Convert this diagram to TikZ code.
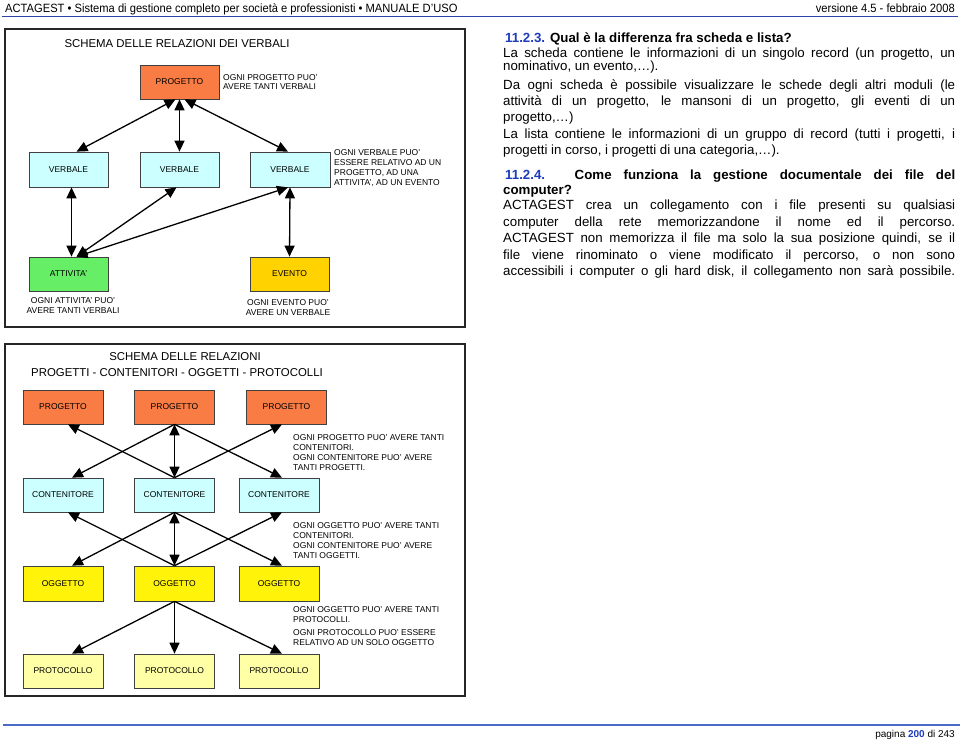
\documentclass[tikz,border=0pt]{standalone}
\usepackage{fontspec}
\setmainfont{Liberation Sans}
\newfontfamily\narrowfont[FakeStretch=0.93]{Liberation Sans}
\usetikzlibrary{arrows.meta,calc}
\definecolor{orangebox}{HTML}{F87C44}
\definecolor{cyanbox}{HTML}{CCFFFF}
\definecolor{greenbox}{HTML}{66EE66}
\definecolor{goldbox}{HTML}{FFD200}
\definecolor{yellowbox}{HTML}{FFF30A}
\definecolor{paleyellow}{HTML}{FFFFA6}
\definecolor{navyline}{HTML}{2E44A8}
\definecolor{footblue}{HTML}{4A6CC8}
\definecolor{headblue}{HTML}{1E3CBE}
\tikzset{
  bx/.style={draw=black!75, line width=0.7pt, minimum width=79pt, minimum height=34pt,
    inner sep=0pt, font=\fontsize{8.5}{10}\selectfont},
  note/.style={align=left, inner sep=0pt, font=\fontsize{8.5}{9.9}\selectfont},
  cnote/.style={align=center, inner sep=0pt, font=\fontsize{8.5}{10}\selectfont},
  frame/.style={draw=black!85, line width=1.7pt},
  tip/.tip={Triangle[length=11pt,width=10pt]},
  dbl/.style={line width=1.3pt, tip-tip},
  sa/.style={line width=1.3pt, -tip},
  body/.style={anchor=base west, inner sep=0pt, font=\fontsize{13.3}{16}\selectfont},
  title/.style={inner sep=0pt, font=\fontsize{11.4}{13}\selectfont},
}
\newcommand{\jline}[1]{\makebox[452pt][s]{#1}}
\begin{document}
\begin{tikzpicture}[x=1pt,y=-1pt]
\useasboundingbox (0,0) rectangle (960,743);
\fill[white] (0,0) rectangle (960,743);

% header
\node[anchor=base west, inner sep=0pt, font=\narrowfont\fontsize{12}{14}\selectfont] (hl) at (5,12.3)
  {ACTAGEST • Sistema di gestione completo per società e professionisti • MANUALE D’USO};
\node[anchor=base east, inner sep=0pt, font=\narrowfont\fontsize{12}{14}\selectfont] (hr) at (955,12.3)
  {versione 4.5 - febbraio 2008};
\coordinate (hla) at (2,16.5);
\coordinate (hlb) at (958,16.5);
\draw[navyline, line width=1.5pt] (hla) -- (hlb);

% ===== Diagram 1 =====
\draw[frame] (5,29) rectangle (465,327);
\node[title] (t1) at (177,44) {SCHEMA DELLE RELAZIONI DEI VERBALI};

\node[bx, fill=orangebox] (prog) at (179.5,82) {PROGETTO};
\node[bx, fill=cyanbox, minimum height=35pt] (v1) at (68.5,169.5) {VERBALE};
\node[bx, fill=cyanbox, minimum height=35pt] (v2) at (179.5,169.5) {VERBALE};
\node[bx, fill=cyanbox, minimum height=35pt, minimum width=80pt] (v3) at (290,169.5) {VERBALE};
\node[bx, fill=greenbox] (att) at (68.5,274) {ATTIVITA’};
\node[bx, fill=goldbox] (ev) at (289.5,274) {EVENTO};

\node[note, anchor=west] (n1) at (223,82) {OGNI PROGETTO PUO’\\AVERE TANTI VERBALI};
\node[note, anchor=west] (n2) at (334,168) {OGNI VERBALE PUO’\\ESSERE RELATIVO AD UN\\PROGETTO, AD UNA\\ATTIVITA’, AD UN EVENTO};
\node[cnote] (n3) at (73,306) {OGNI ATTIVITA’ PUO’\\AVERE TANTI VERBALI};
\node[cnote] (n4) at (288,308) {OGNI EVENTO PUO’\\AVERE UN VERBALE};

\draw[dbl] ($(prog.south)+(-4,0)$) -- ($(v1.north)+(8,0)$);
\draw[dbl] (prog.south) -- (v2.north);
\draw[dbl] ($(prog.south)+(5,0)$) -- ($(v3.north)+(-2,0)$);
\draw[dbl] ($(v1.south)+(3,0)$) -- ($(att.north)+(3,0)$);
\draw[dbl] ($(v2.south)+(-3,0)$) -- ($(att.north)+(8,0)$);
\draw[dbl] ($(v3.south)+(-2,0)$) -- ($(att.north)+(8,0)$);
\draw[dbl] (v3.south) -- (ev.north);

% ===== Right text =====
\node[body] (l1) at (505,42.5) {\textbf{\textcolor{headblue}{11.2.3.} Qual è la differenza fra scheda e lista?}};
\node[body] (l2) at (503,57.5) {\jline{La scheda contiene le informazioni di un singolo record (un progetto, un}};
\node[body] (l3) at (503,70.5) {nominativo, un evento,…).};
\node[body] (l4) at (503,89.5) {\jline{Da ogni scheda è possibile visualizzare le schede degli altri moduli (le}};
\node[body] (l5) at (503,105.5) {\jline{attività di un progetto, le mansoni di un progetto, gli eventi di un}};
\node[body] (l6) at (503,121.5) {progetto,…)};
\node[body] (l7) at (503,138.5) {\jline{La lista contiene le informazioni di un gruppo di record (tutti i progetti, i}};
\node[body] (l8) at (503,154.5) {progetti in corso, i progetti di una categoria,…).};
\node[body] (l9) at (505,179.5) {\makebox[450pt][s]{\bfseries\textcolor{headblue}{11.2.4.} Come funziona la gestione documentale dei file del}};
\node[body] (l10) at (503,194.5) {\textbf{computer?}};
\node[body] (l11) at (503,209.5) {\jline{ACTAGEST crea un collegamento con i file presenti su qualsiasi}};
\node[body] (l12) at (503,226.5) {\jline{computer della rete memorizzandone il nome ed il percorso.}};
\node[body] (l13) at (503,242.5) {\jline{ACTAGEST non memorizza il file ma solo la sua posizione quindi, se il}};
\node[body] (l14) at (503,259.5) {\jline{file viene rinominato o viene modificato il percorso, o non sono}};
\node[body] (l15) at (503,275.5) {\jline{accessibili i computer o gli hard disk, il collegamento non sarà possibile.}};

% ===== Diagram 2 =====
\draw[frame] (5,344) rectangle (465,696);
\node[title] (t2a) at (185,357) {SCHEMA DELLE RELAZIONI};
\node[title] (t2b) at (177,373) {PROGETTI - CONTENITORI - OGGETTI - PROTOCOLLI};

\node[bx, fill=orangebox, minimum width=80pt] (p1) at (63,407) {PROGETTO};
\node[bx, fill=orangebox, minimum width=80pt] (p2) at (174.5,407) {PROGETTO};
\node[bx, fill=orangebox, minimum width=80pt] (p3) at (286.5,407) {PROGETTO};
\node[bx, fill=cyanbox, minimum width=80pt] (c1) at (63,495) {CONTENITORE};
\node[bx, fill=cyanbox, minimum width=80pt] (c2) at (174.5,495) {CONTENITORE};
\node[bx, fill=cyanbox, minimum width=80pt] (c3) at (279,495) {CONTENITORE};
\node[bx, fill=yellowbox, minimum width=80pt, minimum height=35pt] (o1) at (63,583.5) {OGGETTO};
\node[bx, fill=yellowbox, minimum width=80pt, minimum height=35pt] (o2) at (174.5,583.5) {OGGETTO};
\node[bx, fill=yellowbox, minimum width=80pt, minimum height=35pt] (o3) at (279,583.5) {OGGETTO};
\node[bx, fill=paleyellow, minimum width=80pt] (r1) at (63,671) {PROTOCOLLO};
\node[bx, fill=paleyellow, minimum width=80pt] (r2) at (174.5,671) {PROTOCOLLO};
\node[bx, fill=paleyellow, minimum width=80pt] (r3) at (279,671) {PROTOCOLLO};

\node[note, anchor=west] (m1) at (293,452.5) {OGNI PROGETTO PUO’ AVERE TANTI\\CONTENITORI.\\OGNI CONTENITORE PUO’ AVERE\\TANTI PROGETTI.};
\node[note, anchor=west] (m2) at (293,540.5) {OGNI OGGETTO PUO’ AVERE TANTI\\CONTENITORI.\\OGNI CONTENITORE PUO’ AVERE\\TANTI OGGETTI.};
\node[note, anchor=west] (m3) at (293,615) {OGNI OGGETTO PUO’ AVERE TANTI\\PROTOCOLLI.};
\node[note, anchor=west] (m4) at (293,638) {OGNI PROTOCOLLO PUO’ ESSERE\\RELATIVO AD UN SOLO OGGETTO};

% P - C
\draw[sa] (c2.north) -- ($(p1.south)+(5,0)$);
\draw[sa] (p2.south) -- ($(c1.north)+(9,0)$);
\draw[dbl] (p2.south) -- (c2.north);
\draw[sa] (p2.south) -- ($(c3.north)+(3,0)$);
\draw[sa] (c2.north) -- ($(p3.south)+(-4.5,0)$);
% C - O
\draw[sa] (o2.north) -- ($(c1.south)+(5,0)$);
\draw[sa] (c2.south) -- ($(o1.north)+(9,0)$);
\draw[dbl] (c2.south) -- (o2.north);
\draw[sa] (c2.south) -- ($(o3.north)+(3,0)$);
\draw[sa] (o2.north) -- ($(c3.south)+(3,0)$);
% O - T
\draw[sa] (o2.south) -- ($(r1.north)+(9,0)$);
\draw[sa] (o2.south) -- (r2.north);
\draw[sa] (o2.south) -- ($(r3.north)+(3,0)$);

% footer
\coordinate (fla) at (3,725);
\coordinate (flb) at (960,725);
\draw[footblue, line width=1.8pt] (fla) -- (flb);
\node[anchor=base east, inner sep=0pt, font=\fontsize{10}{12}\selectfont] (pg) at (955,737)
  {pagina \textbf{\textcolor{headblue}{200}} di 243};
\end{tikzpicture}
\end{document}
